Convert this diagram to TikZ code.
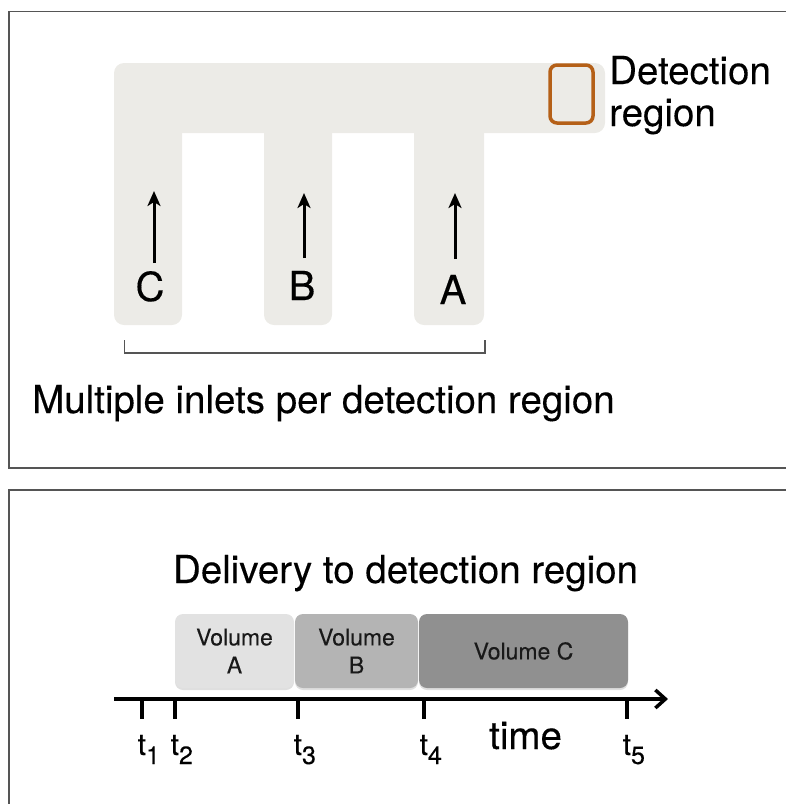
\documentclass[tikz,border=0pt]{standalone}
\usepackage{fontspec}
\setmainfont{TeX Gyre Heros}[FakeBold=0.25]
\usetikzlibrary{arrows.meta,shadows}
\definecolor{chan}{RGB}{236,235,231}
\definecolor{detbrown}{RGB}{181,96,24}
\definecolor{frameg}{RGB}{85,85,85}
\definecolor{volA}{RGB}{226,226,226}
\definecolor{volB}{RGB}{180,180,180}
\definecolor{volC}{RGB}{144,144,144}
\definecolor{txt}{RGB}{25,25,25}
\newcommand\tsubs[1]{\raisebox{-9pt}{\fontsize{25}{25}\selectfont #1}}
\begin{document}
\begin{tikzpicture}[x=1pt,y=-1pt,
  frame/.style={draw=frameg,line width=1.5pt},
  chanfill/.style={fill=chan,rounded corners=10pt},
  big/.style={font=\fontsize{38.5}{42}\selectfont,inner sep=0pt},
  letter/.style={font=\fontsize{40}{44}\selectfont,inner sep=0pt,anchor=base},
  flow/.style={line width=3pt,-{Stealth[length=15pt,width=13pt,inset=4pt]}},
  vol/.style={rounded corners=8pt,inner sep=0pt,drop shadow={opacity=0.25,shadow xshift=0pt,shadow yshift=-2pt},font=\fontsize{23}{28}\selectfont,align=center,text=txt},
  tickln/.style={line width=3.5pt},
  tlab/.style={font=\fontsize{30}{32}\selectfont,inner sep=0pt,anchor=base west}]
\useasboundingbox (0,0) rectangle (786,804);
\clip (0,0) rectangle (786,804);
% panel frames
\draw[frame] (9,11.5) rectangle (800,468);
\draw[frame] (9,490) rectangle (800,820);
% channel network
\fill[chanfill] (114,63) rectangle (605,133);
\fill[chanfill] (114,100) rectangle (182,325);
\fill[chanfill] (264,100) rectangle (332,325);
\fill[chanfill] (414,100) rectangle (484,325);
% detection region
\node[draw=detbrown,line width=3.5pt,rounded corners=7pt,minimum width=43pt,minimum height=58pt,inner sep=0pt] (det) at (571.5,94) {};
\node[big,anchor=base west] (dt1) at (609,84) {Detection};
\node[big,anchor=base west] (dt2) at (609,126) {region};
% flow arrows
\coordinate (cB) at (154,263); \coordinate (cT) at (154,191);
\coordinate (bB) at (304,258); \coordinate (bT) at (304,193);
\coordinate (aB) at (455,259); \coordinate (aT) at (455,193);
\draw[flow] (cB) -- (cT);
\draw[flow] (bB) -- (bT);
\draw[flow] (aB) -- (aT);
\node[letter] (lC) at (150,301) {C};
\node[letter] (lB) at (302,300) {B};
\node[letter] (lA) at (453,304) {A};
% bracket
\coordinate (k1) at (124.5,340); \coordinate (k2) at (124.5,353);
\coordinate (k3) at (485,353); \coordinate (k4) at (485,340);
\draw[line width=1.3pt,draw=frameg] (k1) -- (k2) -- (k3) -- (k4);
\node[big,anchor=base west] (multi) at (32,413) {Multiple inlets per detection region};
% lower panel
\node[big,anchor=base] (deliv) at (405.5,583) {Delivery to detection region};
\node[vol,fill=volA,minimum width=119pt,minimum height=74pt] (vA) at (234.5,651) {Volume\\A};
\node[vol,fill=volB,minimum width=123pt,minimum height=74pt] (vB) at (356.5,651) {Volume\\B};
\node[vol,fill=volC,minimum width=209pt,minimum height=74pt] (vC) at (523.5,651) {Volume C};
% time axis
\coordinate (ax0) at (114,699); \coordinate (ax1) at (668,699);
\draw[line width=3.5pt,-{Straight Barb[length=10pt,width=18pt]}] (ax0) -- (ax1);
\foreach \n/\x in {1/142,2/175,3/298,4/424,5/627}{
  \coordinate (tk\n a) at (\x,699); \coordinate (tk\n b) at (\x,719);
  \draw[tickln] (tk\n a) -- (tk\n b);
  \node[tlab] (t\n) at (\x-4.5,755) {t\tsubs{\n}};
}
\node[big,anchor=base west] (time) at (489,749) {time};
\end{tikzpicture}
\end{document}
